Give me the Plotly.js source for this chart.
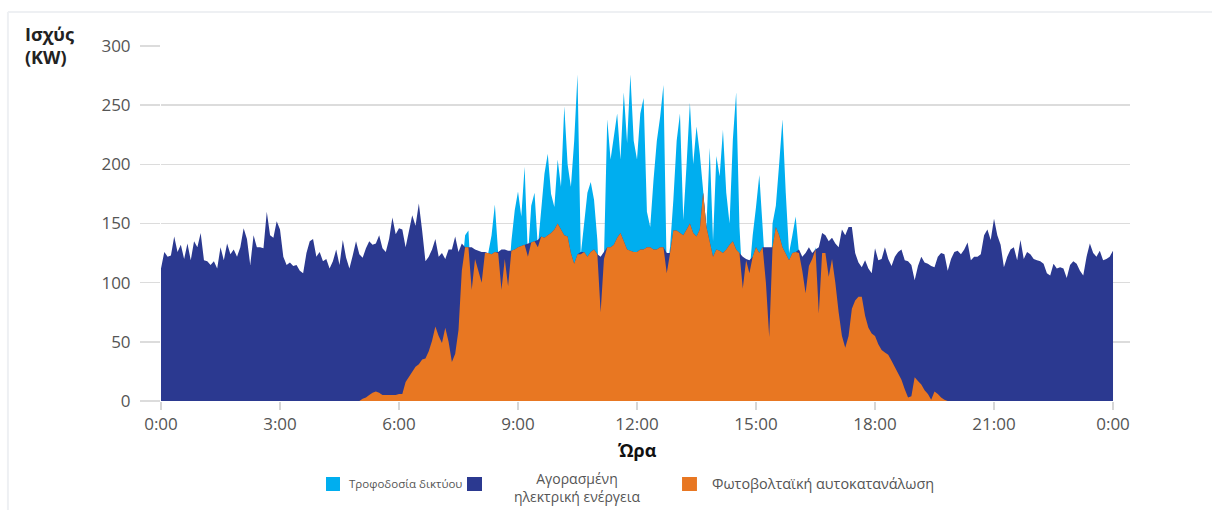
<!DOCTYPE html>
<html>
<head>
<meta charset="utf-8">
<script src="https://cdn.plot.ly/plotly-3.0.1.min.js"></script>
<style>
  html, body { margin: 0; padding: 0; background: #ffffff; }
  #chart { width: 1212px; height: 510px; }
</style>
</head>
<body>
<div id="chart"></div>
<script>
// Time of day, 5-minute steps
const times = [
"00:00","00:05","00:10","00:15","00:20","00:25","00:30","00:35","00:40","00:45","00:50","00:55",
"01:00","01:05","01:10","01:15","01:20","01:25","01:30","01:35","01:40","01:45","01:50","01:55",
"02:00","02:05","02:10","02:15","02:20","02:25","02:30","02:35","02:40","02:45","02:50","02:55",
"03:00","03:05","03:10","03:15","03:20","03:25","03:30","03:35","03:40","03:45","03:50","03:55",
"04:00","04:05","04:10","04:15","04:20","04:25","04:30","04:35","04:40","04:45","04:50","04:55",
"05:00","05:05","05:10","05:15","05:20","05:25","05:30","05:35","05:40","05:45","05:50","05:55",
"06:00","06:05","06:10","06:15","06:20","06:25","06:30","06:35","06:40","06:45","06:50","06:55",
"07:00","07:05","07:10","07:15","07:20","07:25","07:30","07:35","07:40","07:45","07:50","07:55",
"08:00","08:05","08:10","08:15","08:20","08:25","08:30","08:35","08:40","08:45","08:50","08:55",
"09:00","09:05","09:10","09:15","09:20","09:25","09:30","09:35","09:40","09:45","09:50","09:55",
"10:00","10:05","10:10","10:15","10:20","10:25","10:30","10:35","10:40","10:45","10:50","10:55",
"11:00","11:05","11:10","11:15","11:20","11:25","11:30","11:35","11:40","11:45","11:50","11:55",
"12:00","12:05","12:10","12:15","12:20","12:25","12:30","12:35","12:40","12:45","12:50","12:55",
"13:00","13:05","13:10","13:15","13:20","13:25","13:30","13:35","13:40","13:45","13:50","13:55",
"14:00","14:05","14:10","14:15","14:20","14:25","14:30","14:35","14:40","14:45","14:50","14:55",
"15:00","15:05","15:10","15:15","15:20","15:25","15:30","15:35","15:40","15:45","15:50","15:55",
"16:00","16:05","16:10","16:15","16:20","16:25","16:30","16:35","16:40","16:45","16:50","16:55",
"17:00","17:05","17:10","17:15","17:20","17:25","17:30","17:35","17:40","17:45","17:50","17:55",
"18:00","18:05","18:10","18:15","18:20","18:25","18:30","18:35","18:40","18:45","18:50","18:55",
"19:00","19:05","19:10","19:15","19:20","19:25","19:30","19:35","19:40","19:45","19:50","19:55",
"20:00","20:05","20:10","20:15","20:20","20:25","20:30","20:35","20:40","20:45","20:50","20:55",
"21:00","21:05","21:10","21:15","21:20","21:25","21:30","21:35","21:40","21:45","21:50","21:55",
"22:00","22:05","22:10","22:15","22:20","22:25","22:30","22:35","22:40","22:45","22:50","22:55",
"23:00","23:05","23:10","23:15","23:20","23:25","23:30","23:35","23:40","23:45","23:50","23:55",
"24:00"
];

// Total PV output (top of light-blue area), kW
const pvOutput = [
0,0,0,0,0,0,0,0,0,0,0,0,
0,0,0,0,0,0,0,0,0,0,0,0,
0,0,0,0,0,0,0,0,0,0,0,0,
0,0,0,0,0,0,0,0,0,0,0,0,
0,0,0,0,0,0,0,0,0,0,0,0,
0,2,3,5,7,8,7,5,5,5,5,5,
6,6,16,20,25,29,31,35,36,42,51,63,
55,49,62,50,33,40,60,110,140,144,94,120,
110,100,125,125,140,166,125,94,120,97,135,161,
177,156,198,122,165,176,130,160,192,209,175,164,
204,181,249,200,181,220,276,124,150,176,185,170,
136,75,120,238,204,225,243,204,261,218,276,220,
204,243,256,160,147,187,220,240,267,108,130,170,
220,243,153,200,252,200,232,209,180,147,214,135,
207,190,229,176,150,221,261,147,95,119,108,140,
164,191,147,100,54,150,165,200,238,176,125,140,
156,125,110,91,114,120,130,74,125,125,105,120,
100,75,55,45,55,78,85,88,88,72,62,57,
55,48,43,41,39,34,29,24,18,10,3,4,
20,17,14,9,6,1,8,6,3,1,0,0,
0,0,0,0,0,0,0,0,0,0,0,0,
0,0,0,0,0,0,0,0,0,0,0,0,
0,0,0,0,0,0,0,0,0,0,0,0,
0,0,0,0,0,0,0,0,0,0,0,0,
0
];

// Site consumption (top of dark-blue area), kW
const loadDemand = [
112,126,122,123,139,126,132,120,133,119,135,130,
142,119,118,115,118,112,130,119,133,124,128,122,
130,146,137,115,140,130,130,129,160,140,138,152,
145,122,115,117,114,115,110,108,125,135,137,122,
126,118,120,112,118,128,115,136,121,112,123,135,
124,121,129,135,132,133,140,129,126,137,155,141,
146,145,130,144,157,148,167,144,118,122,128,137,
122,125,120,128,128,139,126,133,130,130,130,128,
127,126,126,125,124,126,126,128,128,127,127,128,
130,131,132,133,134,135,136,139,138,140,142,145,
150,145,140,139,125,116,124,126,126,122,126,128,
124,122,126,130,130,132,138,142,135,128,127,126,
126,128,128,130,130,128,128,130,130,125,125,144,
144,142,140,145,150,142,139,145,176,147,135,122,
128,127,125,128,132,135,128,125,122,120,119,122,
130,125,130,130,130,130,147,140,130,125,119,125,
126,128,122,125,130,125,128,130,142,140,135,138,
133,130,145,140,147,147,125,117,113,119,112,108,
129,119,120,130,120,114,122,126,128,119,118,115,
102,114,122,117,116,114,113,122,125,124,110,120,
126,127,124,128,134,119,122,122,124,140,145,136,
154,140,132,113,122,128,130,119,136,120,126,124,
120,119,118,116,108,106,116,112,113,112,104,115,
118,116,110,106,122,133,125,122,127,119,120,122,
127
];

// PV self-consumption (top of orange area), kW
const selfConsumption = [
0,0,0,0,0,0,0,0,0,0,0,0,
0,0,0,0,0,0,0,0,0,0,0,0,
0,0,0,0,0,0,0,0,0,0,0,0,
0,0,0,0,0,0,0,0,0,0,0,0,
0,0,0,0,0,0,0,0,0,0,0,0,
0,2,3,5,7,8,7,5,5,5,5,5,
6,6,16,20,25,29,31,35,36,42,51,63,
55,49,62,50,33,40,60,110,130,130,94,120,
110,100,125,125,124,126,125,94,120,97,127,128,
130,131,132,122,134,135,130,139,138,140,142,145,
150,145,140,139,125,116,124,124,126,122,126,128,
124,75,120,130,130,132,138,142,135,128,127,126,
126,128,128,130,130,128,128,130,130,108,125,144,
144,142,140,145,150,142,139,145,176,147,135,122,
128,127,125,128,132,135,128,125,95,119,108,122,
130,125,130,100,54,130,147,140,130,125,119,125,
126,125,110,91,114,120,128,74,125,125,105,120,
100,75,55,45,55,78,85,88,88,72,62,57,
55,48,43,41,39,34,29,24,18,10,3,4,
20,17,14,9,6,1,8,6,3,1,0,0,
0,0,0,0,0,0,0,0,0,0,0,0,
0,0,0,0,0,0,0,0,0,0,0,0,
0,0,0,0,0,0,0,0,0,0,0,0,
0,0,0,0,0,0,0,0,0,0,0,0,
0
];

const seriesNames = ["Τροφοδοσία δικτύου", "Αγορασμένη<br>ηλεκτρική ενέργεια", "Φωτοβολταϊκή αυτοκατανάλωση"];
const seriesColors = ["#00aeef", "#2b3990", "#e87722"];

const tickTimes = ["00:00","03:00","06:00","09:00","12:00","15:00","18:00","21:00","24:00"];
const tickLabels = ["0:00","3:00","6:00","9:00","12:00","15:00","18:00","21:00","0:00"];
const yTicks = [0, 50, 100, 150, 200, 250, 300];

const FONT = "Open Sans, Noto Sans, sans-serif";

function area(y, color, name) {
  return {
    type: "scatter", mode: "lines", x: times, y: y, name: name,
    fill: "tozeroy", fillcolor: color,
    line: { width: 0, color: color, shape: "linear" },
    showlegend: false, hoverinfo: "skip"
  };
}

const data = [
  area(pvOutput, seriesColors[0], seriesNames[0]),
  area(loadDemand, seriesColors[1], seriesNames[1]),
  area(selfConsumption, seriesColors[2], seriesNames[2])
];

// legend (key) drawn below the plot
function keySquare(x0, x1, color) {
  return { type: "rect", xref: "paper", yref: "paper", x0: x0, x1: x1, y0: -0.2535, y1: -0.2141,
           fillcolor: color, line: { width: 0 } };
}
function keyText(text, x, y, xanchor, size) {
  return { text: text, xref: "paper", yref: "paper", x: x, y: y, xanchor: xanchor, yanchor: "middle",
           align: "center", showarrow: false, font: { family: FONT, size: size, color: "#555" } };
}

const layout = {
  width: 1212, height: 510,
  margin: { l: 161, r: 82, t: 46, b: 109 },
  paper_bgcolor: "#ffffff", plot_bgcolor: "#ffffff",
  font: { family: FONT, color: "#555" },
  showlegend: false,
  xaxis: {
    type: "category", range: [0, 293.14],
    tickmode: "array", tickvals: tickTimes, ticktext: tickLabels,
    showgrid: false, zeroline: false, showline: false,
    ticks: "outside", ticklen: 8, tickwidth: 1.5, tickcolor: "#d6d6d6",
    tickfont: { family: FONT, size: 17, color: "#555" }
  },
  yaxis: {
    range: [0, 300], tickmode: "array", tickvals: yTicks,
    showgrid: true, gridcolor: "#dcdcdc", gridwidth: 1.5,
    zeroline: false, showline: false,
    ticks: "outside", ticklen: 20, tickwidth: 1.5, tickcolor: "#dcdcdc",
    ticklabelstandoff: 6,
    tickfont: { family: FONT, size: 17, color: "#555" }
  },
  annotations: [
    { text: "Ισχύς<br>(KW)", xref: "paper", yref: "paper",
      x: -0.1424, y: 1.073, xanchor: "left", yanchor: "top", align: "left",
      showarrow: false, font: { family: FONT, size: 18, color: "#222", weight: 700 } },
    { text: "Ώρα", xref: "x", yref: "paper", x: "12:00", y: -0.138,
      xanchor: "center", yanchor: "middle", showarrow: false,
      font: { family: FONT, size: 18, color: "#111", weight: 700 } },
    keyText(seriesNames[0], 0.1920, -0.231, "left", 11.5),
    keyText(seriesNames[1], 0.4293, -0.245, "center", 14),
    keyText(seriesNames[2], 0.5666, -0.2338, "left", 14.4)
  ],
  shapes: [
    { type: "line", xref: "paper", yref: "paper", x0: -0.158, x1: 1.09, y0: 1.096, y1: 1.096,
      line: { color: "#eef0f3", width: 2 } },
    { type: "line", xref: "paper", yref: "paper", x0: -0.158, x1: -0.158, y0: 1.096, y1: -0.32,
      line: { color: "#eef0f3", width: 2 } },
    keySquare(0.1703, 0.1847, seriesColors[0]),
    keySquare(0.3158, 0.3313, seriesColors[1]),
    keySquare(0.5377, 0.5531, seriesColors[2])
  ]
};

Plotly.newPlot("chart", data, layout, { displayModeBar: false, staticPlot: true });
</script>
</body>
</html>
